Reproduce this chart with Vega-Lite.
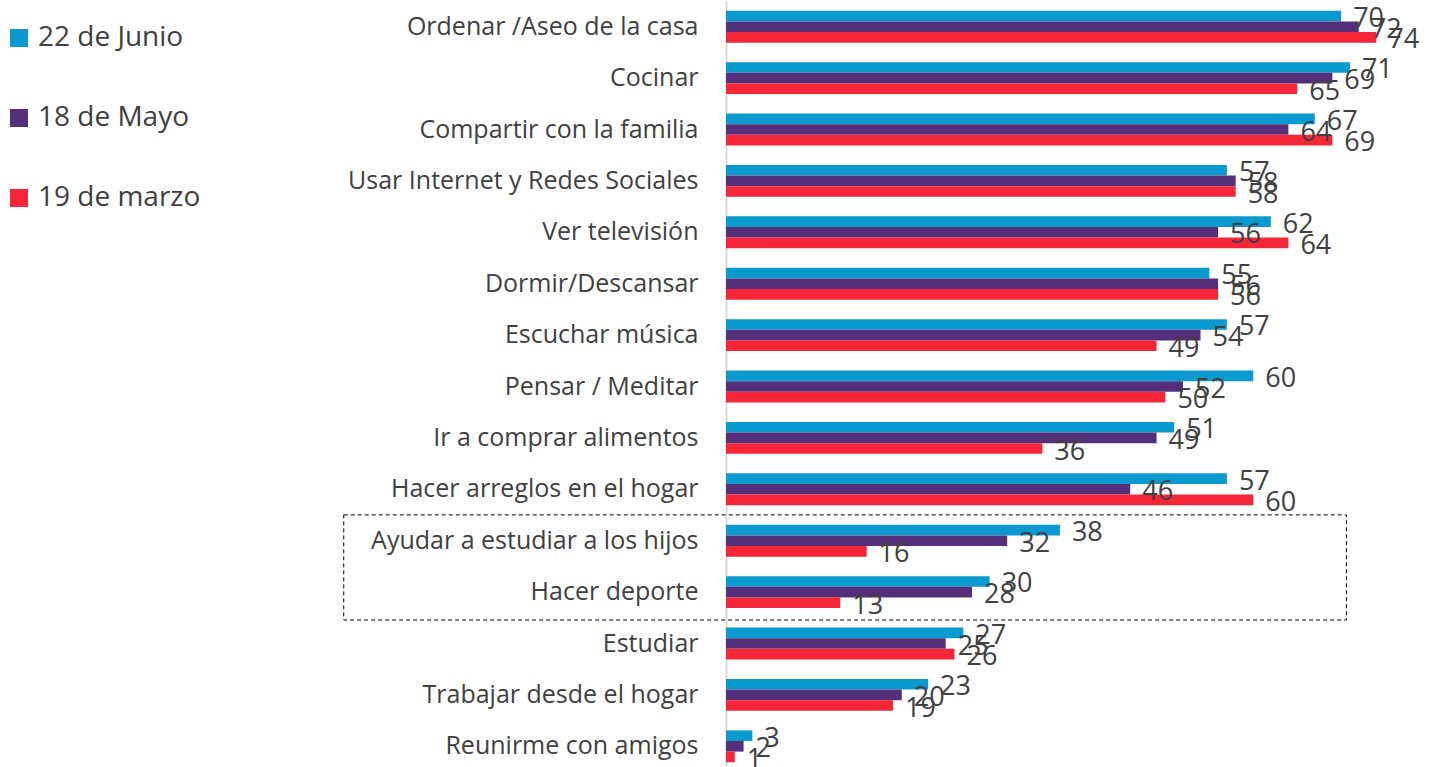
{
  "$schema": "https://vega.github.io/schema/vega-lite/v6.json",
  "width": 703,
  "height": 771,
  "autosize": {"type": "none"},
  "padding": {"left": 726, "top": 1, "right": 0, "bottom": 0},
  "background": "white",
  "config": {"view": {"stroke": null}, "font": "Open Sans"},
  "datasets": {
    "main": [
      {"cat": "Ordenar /Aseo de la casa", "serie": "22 de Junio", "value": 70},
      {"cat": "Ordenar /Aseo de la casa", "serie": "18 de Mayo", "value": 72},
      {"cat": "Ordenar /Aseo de la casa", "serie": "19 de marzo", "value": 74},
      {"cat": "Cocinar", "serie": "22 de Junio", "value": 71},
      {"cat": "Cocinar", "serie": "18 de Mayo", "value": 69},
      {"cat": "Cocinar", "serie": "19 de marzo", "value": 65},
      {"cat": "Compartir con la familia", "serie": "22 de Junio", "value": 67},
      {"cat": "Compartir con la familia", "serie": "18 de Mayo", "value": 64},
      {"cat": "Compartir con la familia", "serie": "19 de marzo", "value": 69},
      {"cat": "Usar Internet y  Redes Sociales", "serie": "22 de Junio", "value": 57},
      {"cat": "Usar Internet y  Redes Sociales", "serie": "18 de Mayo", "value": 58},
      {"cat": "Usar Internet y  Redes Sociales", "serie": "19 de marzo", "value": 58},
      {"cat": "Ver televisión", "serie": "22 de Junio", "value": 62},
      {"cat": "Ver televisión", "serie": "18 de Mayo", "value": 56},
      {"cat": "Ver televisión", "serie": "19 de marzo", "value": 64},
      {"cat": "Dormir/Descansar", "serie": "22 de Junio", "value": 55},
      {"cat": "Dormir/Descansar", "serie": "18 de Mayo", "value": 56},
      {"cat": "Dormir/Descansar", "serie": "19 de marzo", "value": 56},
      {"cat": "Escuchar música", "serie": "22 de Junio", "value": 57},
      {"cat": "Escuchar música", "serie": "18 de Mayo", "value": 54},
      {"cat": "Escuchar música", "serie": "19 de marzo", "value": 49},
      {"cat": "Pensar / Meditar", "serie": "22 de Junio", "value": 60},
      {"cat": "Pensar / Meditar", "serie": "18 de Mayo", "value": 52},
      {"cat": "Pensar / Meditar", "serie": "19 de marzo", "value": 50},
      {"cat": "Ir a comprar  alimentos", "serie": "22 de Junio", "value": 51},
      {"cat": "Ir a comprar  alimentos", "serie": "18 de Mayo", "value": 49},
      {"cat": "Ir a comprar  alimentos", "serie": "19 de marzo", "value": 36},
      {"cat": "Hacer arreglos en el hogar", "serie": "22 de Junio", "value": 57},
      {"cat": "Hacer arreglos en el hogar", "serie": "18 de Mayo", "value": 46},
      {"cat": "Hacer arreglos en el hogar", "serie": "19 de marzo", "value": 60},
      {"cat": "Ayudar a estudiar  a los hijos", "serie": "22 de Junio", "value": 38},
      {"cat": "Ayudar a estudiar  a los hijos", "serie": "18 de Mayo", "value": 32},
      {"cat": "Ayudar a estudiar  a los hijos", "serie": "19 de marzo", "value": 16},
      {"cat": "Hacer deporte", "serie": "22 de Junio", "value": 30},
      {"cat": "Hacer deporte", "serie": "18 de Mayo", "value": 28},
      {"cat": "Hacer deporte", "serie": "19 de marzo", "value": 13},
      {"cat": "Estudiar", "serie": "22 de Junio", "value": 27},
      {"cat": "Estudiar", "serie": "18 de Mayo", "value": 25},
      {"cat": "Estudiar", "serie": "19 de marzo", "value": 26},
      {"cat": "Trabajar desde el hogar", "serie": "22 de Junio", "value": 23},
      {"cat": "Trabajar desde el hogar", "serie": "18 de Mayo", "value": 20},
      {"cat": "Trabajar desde el hogar", "serie": "19 de marzo", "value": 19},
      {"cat": "Reunirme con amigos", "serie": "22 de Junio", "value": 3},
      {"cat": "Reunirme con amigos", "serie": "18 de Mayo", "value": 2},
      {"cat": "Reunirme con amigos", "serie": "19 de marzo", "value": 1}
    ],
    "box": [
      {"top": "Ayudar a estudiar  a los hijos", "bottom": "Hacer deporte", "x1": -43.5, "x2": 70.6}
    ]
  },
  "layer": [
    {
      "data": {"name": "main"},
      "mark": {"type": "bar"},
      "encoding": {
        "y": {"field": "cat", "type": "nominal", "sort": null, "scale": {"paddingInner": 0.38, "paddingOuter": 0.19},
          "axis": {"title": null, "ticks": false, "labelFontSize": 25, "labelColor": "#404040", "labelPadding": 28, "domainColor": "#d9d9d9", "domainWidth": 2, "labelLimit": 0}},
        "yOffset": {"field": "serie", "type": "nominal", "sort": ["22 de Junio", "18 de Mayo", "19 de marzo"]},
        "x": {"field": "value", "type": "quantitative", "scale": {"domain": [0, 80]}, "axis": null},
        "color": {"field": "serie", "type": "nominal", "sort": ["22 de Junio", "18 de Mayo", "19 de marzo"],
          "scale": {"domain": ["22 de Junio", "18 de Mayo", "19 de marzo"], "range": ["#0A9AD0", "#55307A", "#F42637"]},
          "legend": {"title": null, "orient": "none", "legendX": -721, "legendY": 23, "symbolType": "square", "symbolSize": 324, "symbolStrokeWidth": 0, "symbolOpacity": 1, "labelFontSize": 28, "labelColor": "#404040", "labelLimit": 0, "rowPadding": 52, "labelOffset": 5}}
      }
    },
    {
      "data": {"name": "main"},
      "mark": {"type": "text", "align": "left", "baseline": "middle", "dx": 12, "dy": 3, "fontSize": 27, "color": "#404040"},
      "encoding": {
        "y": {"field": "cat", "type": "nominal", "sort": null},
        "yOffset": {"field": "serie", "type": "nominal", "sort": ["22 de Junio", "18 de Mayo", "19 de marzo"]},
        "x": {"field": "value", "type": "quantitative"},
        "text": {"field": "value", "type": "quantitative"}
      }
    },
    {
      "data": {"name": "box"},
      "mark": {"type": "rect", "fill": null, "stroke": "#000000", "strokeWidth": 1, "strokeDash": [4, 3]},
      "encoding": {
        "y": {"field": "top", "type": "nominal", "sort": null, "bandPosition": -0.31},
        "y2": {"field": "bottom", "bandPosition": 1.375},
        "x": {"field": "x1", "type": "quantitative"},
        "x2": {"field": "x2"}
      }
    }
  ]
}
